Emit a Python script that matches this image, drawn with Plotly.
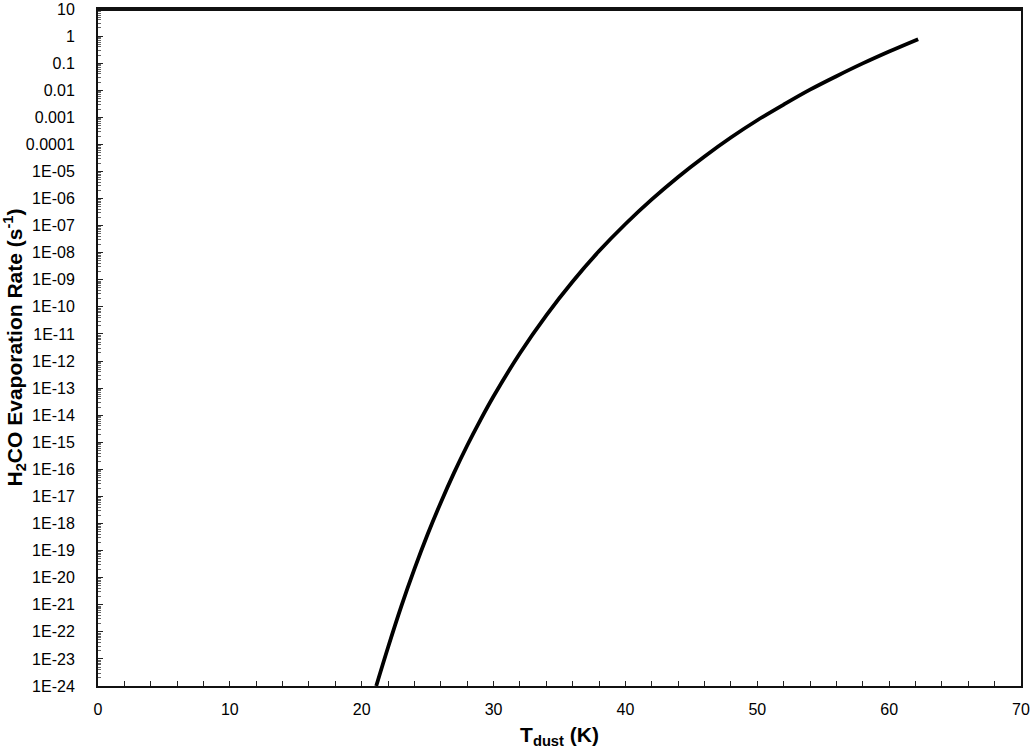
import plotly.graph_objects as go

# Data
t_dust = [21.1, 22, 23, 24, 25, 26, 27, 28, 29, 30, 32, 34, 36, 38, 40, 42, 44,
          46, 48, 50, 52, 54, 56, 58, 60, 62.2]
evap_rate = [1.0e-24, 2.7e-23, 8.7e-22, 2.1e-20, 4.0e-19, 6.0e-18, 7.4e-17, 7.6e-16,
             6.6e-15, 5.0e-14, 1.95e-12, 4.9e-11, 8.7e-10, 1.15e-8, 1.15e-7, 9.3e-7,
             6.3e-6, 3.6e-5, 1.8e-4, 7.8e-4, 2.95e-3, 1.05e-2, 3.3e-2, 9.8e-2, 0.27, 0.77]

y_tick_vals = [10 ** e for e in range(1, -25, -1)]
y_tick_text = ["10", "1", "0.1", "0.01", "0.001", "0.0001"] + \
              ["1E-%02d" % e for e in range(5, 25)]
minor_vals = [k * 10 ** e for e in range(-24, 1) for k in range(2, 10)]

fig = go.Figure()
fig.add_trace(go.Scatter(x=t_dust, y=evap_rate, mode="lines",
                         line=dict(color="black", width=3.8, shape="spline"),
                         showlegend=False))

font = dict(family="Liberation Sans, Arial, sans-serif", size=16, color="black")

fig.update_layout(
    width=1033, height=750,
    margin=dict(l=98, r=12, t=9, b=64, autoexpand=False),
    paper_bgcolor="white", plot_bgcolor="white",
    font=font,
    xaxis=dict(
        range=[0, 70], tickmode="linear", tick0=0, dtick=10,
        ticks="inside", ticklen=5, tickcolor="#222", tickwidth=1,
        minor=dict(ticks="inside", dtick=2, ticklen=5, tickcolor="#222", tickwidth=1),
        showgrid=False, zeroline=False, automargin=False,
        showline=True, linecolor="#111", linewidth=2, mirror=True,
        ticklabelstandoff=8, ticklabeloverflow="allow",
        title=dict(text="<b>T<sub>dust</sub> (K)</b>", font=dict(size=21), standoff=10),
    ),
    yaxis=dict(
        type="log", range=[-24, 1],
        tickmode="array", tickvals=y_tick_vals, ticktext=y_tick_text,
        ticks="inside", ticklen=5, tickcolor="#222", tickwidth=1,
        minor=dict(ticks="inside", tickvals=minor_vals, ticklen=3, tickcolor="#666", tickwidth=1),
        showgrid=False, zeroline=False, automargin=False,
        showline=True, linecolor="#111", linewidth=2, mirror=True,
        ticklabelstandoff=18, ticklabeloverflow="allow",
        title=dict(text="<b>H<sub>2</sub>CO Evaporation Rate (s<sup>-1</sup>)</b>",
                   font=dict(size=21), standoff=4),
    ),
    shapes=[dict(type="line", xref="paper", yref="paper", x0=0, x1=1, y0=0.999, y1=0.999,
                 line=dict(color="#111", width=2.5), layer="above")],
)

fig.write_html("out.html", config={"displayModeBar": False},
               post_script="document.body.style.margin='0px';")
